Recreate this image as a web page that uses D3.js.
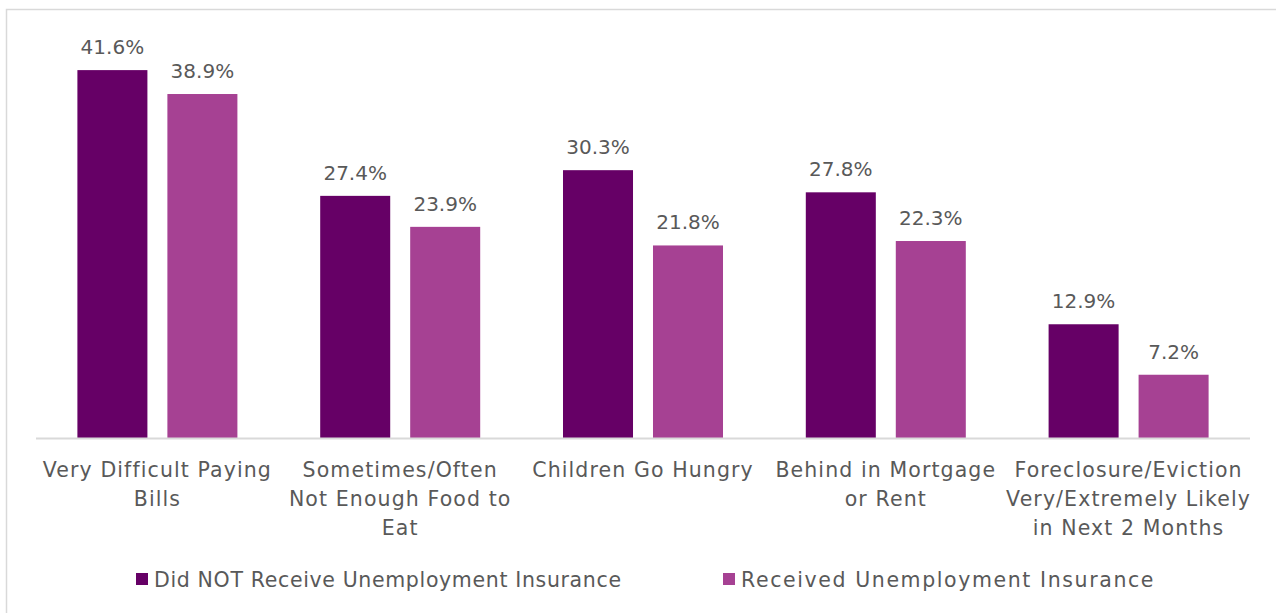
<!DOCTYPE html>
<html>
<head>
<meta charset="utf-8">
<script src="https://cdn.jsdelivr.net/npm/d3@7"></script>
<style>
  html, body { margin: 0; padding: 0; background: #fff; }
  svg { display: block; }
  text { font-family: "DejaVu Sans", sans-serif; fill: #595959; }
</style>
</head>
<body>
<svg id="chart" width="1276" height="613"></svg>
<script>
const categories = [
  "Very Difficult Paying Bills",
  "Sometimes/Often Not Enough Food to Eat",
  "Children Go Hungry",
  "Behind in Mortgage or Rent",
  "Foreclosure/Eviction Very/Extremely Likely in Next 2 Months"
];
const categoryLines = [
  ["Very Difficult Paying", "Bills"],
  ["Sometimes/Often", "Not Enough Food to", "Eat"],
  ["Children Go Hungry"],
  ["Behind in Mortgage", "or Rent"],
  ["Foreclosure/Eviction", "Very/Extremely Likely", "in Next 2 Months"]
];
const seriesNames = ["Did NOT Receive Unemployment Insurance", "Received Unemployment Insurance"];
const notReceived = [41.6, 27.4, 30.3, 27.8, 12.9];
const received = [38.9, 23.9, 21.8, 22.3, 7.2];
const colors = ["#660066", "#A64193"];

const svg = d3.select("#chart");
const W = 1276, H = 613;
const plot = { left: 36, right: 1250, top: 40, bottom: 438.5 };

// chart border
svg.append("rect")
  .attr("x", 6.5).attr("y", 9.5)
  .attr("width", W + 10).attr("height", H + 10)
  .attr("fill", "none").attr("stroke", "#d9d9d9").attr("stroke-width", 1.5);

const x0 = d3.scaleBand().domain(categories).range([plot.left, plot.right])
  .paddingInner(0.341).paddingOuter(0.1705);
const x1 = d3.scaleBand().domain(seriesNames).range([0, x0.bandwidth()]).paddingInner(0.222);
const y = d3.scaleLinear().domain([0, 45]).range([plot.bottom, plot.top]);

const data = categories.map((c, i) => ({
  cat: c,
  values: [
    { s: seriesNames[0], v: notReceived[i], color: colors[0] },
    { s: seriesNames[1], v: received[i], color: colors[1] }
  ]
}));

const groups = svg.append("g").selectAll("g").data(data).join("g")
  .attr("transform", d => `translate(${x0(d.cat)},0)`);

groups.selectAll("rect").data(d => d.values).join("rect")
  .attr("x", d => x1(d.s))
  .attr("y", d => y(d.v))
  .attr("width", x1.bandwidth())
  .attr("height", d => y(0) - y(d.v))
  .attr("fill", d => d.color);

groups.selectAll("text.val").data(d => d.values).join("text")
  .attr("class", "val")
  .attr("x", d => x1(d.s) + x1.bandwidth() / 2)
  .attr("y", d => y(d.v) - 16)
  .attr("text-anchor", "middle")
  .attr("font-size", 20)
  .text(d => d.v.toFixed(1) + "%");

// x axis baseline
const xAxis = d3.axisBottom(x0).tickSize(0).tickFormat("");
const axG = svg.append("g").attr("transform", `translate(0,${plot.bottom})`).call(xAxis);
axG.select(".domain").attr("stroke", "#d9d9d9").attr("stroke-width", 2)
  .attr("d", `M${plot.left},0H${plot.right}`);

// category labels
const labG = svg.append("g");
categories.forEach((c, i) => {
  const cx = x0(c) + x0.bandwidth() / 2;
  const t = labG.append("text")
    .attr("x", cx)
    .attr("y", 477)
    .attr("text-anchor", "middle")
    .attr("font-size", 20.5)
    .attr("letter-spacing", 1.1);
  categoryLines[i].forEach((ln, j) => {
    t.append("tspan").attr("x", cx).attr("y", 477 + j * 29).text(ln);
  });
});

// legend
const legendX = [136, 723];
const legendSpacing = [0.65, 1.6];
const leg = svg.append("g");
seriesNames.forEach((s, i) => {
  leg.append("rect").attr("x", legendX[i]).attr("y", 573).attr("width", 12).attr("height", 12)
    .attr("fill", colors[i]);
  leg.append("text").attr("x", legendX[i] + 18).attr("y", 587)
    .attr("font-size", 20.5).attr("letter-spacing", legendSpacing[i]).text(s);
});
</script>
</body>
</html>
